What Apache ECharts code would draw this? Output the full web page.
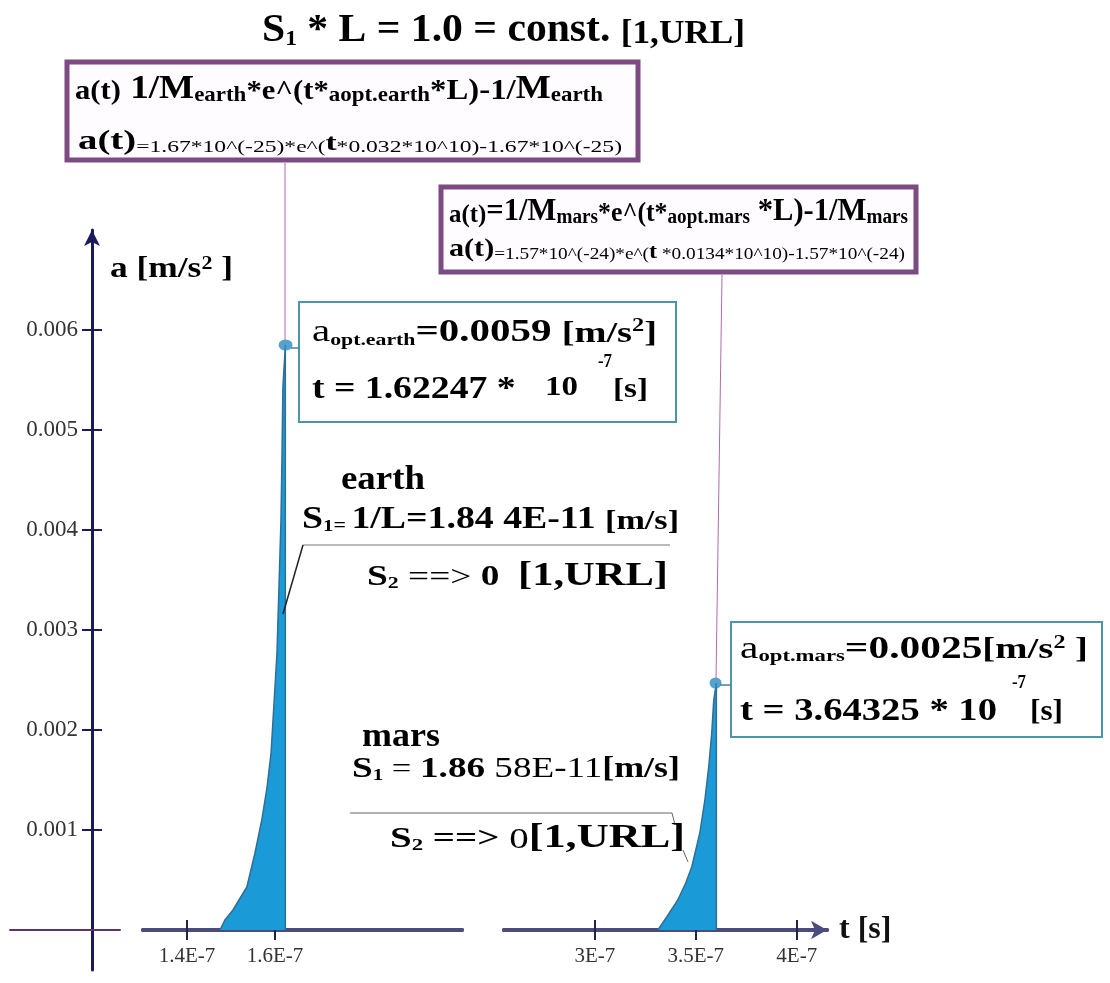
<!DOCTYPE html>
<html><head><meta charset="utf-8">
<script src="https://cdn.jsdelivr.net/npm/echarts@6/dist/echarts.min.js"></script>
<style>html,body{margin:0;padding:0;background:#fff}#c{width:1110px;height:983px}</style>
</head><body><div id="c"></div>
<script>
// ---- data (time in units of 1E-7 s, acceleration in m/s^2) ----
const earthT = [1.475, 1.486, 1.5045, 1.536, 1.5545, 1.570, 1.582, 1.591, 1.5955, 1.6045, 1.609, 1.6136, 1.616, 1.618, 1.6235, 1.6235];
const earthA = [0, 0.0001, 0.0002, 0.00043, 0.00077, 0.0011, 0.00143, 0.00177, 0.0021, 0.00277, 0.00343, 0.0041, 0.00477, 0.00543, 0.00585, 0];
const marsT = [3.312, 3.356, 3.411, 3.450, 3.480, 3.520, 3.545, 3.564, 3.579, 3.589, 3.602, 3.602];
const marsA = [0, 0.00013, 0.0003, 0.00047, 0.00063, 0.00097, 0.0013, 0.00163, 0.00197, 0.0023, 0.00247, 0];
const earthPeak = [1.624, 0.00585];
const marsPeak = [3.598, 0.00247];
const yTicks = [0.001, 0.002, 0.003, 0.004, 0.005, 0.006];
const yTickLabels = ['0.001', '0.002', '0.003', '0.004', '0.005', '0.006'];
const earthTicks = [1.4, 1.6];
const earthTickLabels = ['1.4E-7', '1.6E-7'];
const marsTicks = [3, 3.5, 4];
const marsTickLabels = ['3E-7', '3.5E-7', '4E-7'];

const F = 'Liberation Serif';
const pair = (xs, ys) => xs.map((x, i) => [x, ys[i]]);
const lab = (ticks, labels) => v => { const i = ticks.findIndex(t => Math.abs(t - v) < 1e-9); return i < 0 ? '' : labels[i]; };

const ctx = document.createElement('canvas').getContext('2d');
function textEl(spec) {
  const rich = {}; let text = ''; let w = 0;
  spec.parts.forEach((p, i) => {
    const [s, size, weight, va] = p;
    const wt = weight || 'bold';
    rich['t' + i] = { fontFamily: F, fontSize: size, fontWeight: wt, color: spec.color || '#111', verticalAlign: va || 'bottom', lineHeight: size };
    ctx.font = wt + ' ' + size + 'px "' + F + '"';
    w += ctx.measureText(s).width;
    text += '{t' + i + '|' + s + '}';
  });
  const sx = spec.x2 ? (spec.x2 - spec.x1) / w : 1;
  return { type: 'text', x: spec.x1, y: spec.y, scaleX: sx, z: 100,
    style: { text: text, rich: rich, textAlign: 'left', align: 'left', textVerticalAlign: 'middle', verticalAlign: 'middle' } };
}
function line(x1, y1, x2, y2, stroke, w) {
  return { type: 'line', z: 90, shape: { x1, y1, x2, y2 }, style: { stroke: stroke, lineWidth: w } };
}
function box(x, y, wd, ht, stroke, lw, fill) {
  return { type: 'rect', z: 80, shape: { x: x, y: y, width: wd, height: ht }, style: { fill: fill || '#fff', stroke: stroke, lineWidth: lw } };
}

const PURPLE = '#7b4b82', TEAL = '#4a97aa', LEAD = '#b06aa8';
const texts = [
  { x1: 262, x2: 745, y: 31, parts: [['S', 39], ['1', 22], [' * L = 1.0 = const. ', 39], ['[1,URL]', 33]] },
  { x1: 75, x2: 603, y: 89, parts: [['a(t)', 28], [' 1/M', 34], ['earth', 21], ['*e^(t*', 28], ['aopt.earth', 21], ['*L)-1/', 30], ['M', 34], ['earth', 21]] },
  { x1: 78, x2: 622, y: 142, parts: [['a(t)', 28], ['=1.67*10^(-25)*e^(', 17, 'normal'], ['t', 24], ['*0.032*10^10)-1.67*10^(-25)', 17, 'normal']] },
  { x1: 449, x2: 908, y: 212, parts: [['a(t)', 26], ['=1/M', 32], ['mars', 20], ['*e^(t*', 27], ['aopt.mars', 20], [' *L)-1/M', 32], ['mars', 20]] },
  { x1: 449, x2: 905, y: 250, parts: [['a(t)', 25], ['=1.57*10^(-24)*e^(', 16, 'normal'], ['t', 20], [' *0.0134*10^10)-1.57*10^(-24)', 16, 'normal']] },
  { x1: 110, x2: 233, y: 270, parts: [['a [m/s', 29], ['2', 18, 'bold', 'top'], [' ]', 29]] },
  { x1: 312, x2: 657, y: 333, parts: [['a', 32, 'normal'], ['opt.earth', 17], ['=0.0059 ', 32], ['[m/s', 30], ['2', 19, 'bold', 'top'], [']', 30]] },
  { x1: 312, x2: 525, y: 390, parts: [['t = 1.62247 * ', 32]] },
  { x1: 545, x2: 578, y: 388, parts: [['10', 28]] },
  { x1: 598, x2: 612, y: 362, parts: [['-7', 18]] },
  { x1: 613, x2: 648, y: 390, parts: [['[s]', 28]] },
  { x1: 341, x2: 425, y: 480, parts: [['earth', 33]] },
  { x1: 302, x2: 679, y: 520, parts: [['S', 31], ['1', 17], ['= ', 18], ['1/L=', 31], ['1.84 4E-11 ', 31], ['[m/s]', 28]] },
  { x1: 367, x2: 668, y: 576, parts: [['S', 29], ['2', 17], [' ==> ', 29, 'normal'], ['0  ', 29], ['[1,URL]', 33]] },
  { x1: 740, x2: 1088, y: 650, parts: [['a', 31, 'normal'], ['opt.mars', 17], ['=0.0025', 31], ['[m/s', 29], ['2', 18, 'bold', 'top'], [' ]', 29]] },
  { x1: 740, x2: 997, y: 712, parts: [['t = 3.64325 * 10', 31]] },
  { x1: 1012, x2: 1026, y: 683, parts: [['-7', 18]] },
  { x1: 1030, x2: 1063, y: 713, parts: [['[s]', 29]] },
  { x1: 362, x2: 440, y: 737, parts: [['mars', 33]] },
  { x1: 352, x2: 680, y: 769, parts: [['S', 30], ['1', 17], [' = ', 28, 'normal'], ['1.86', 30], [' 58E-11', 30, 'normal'], ['[m/s]', 29]] },
  { x1: 390, x2: 685, y: 838, parts: [['S', 29], ['2', 17], [' ==> ', 29], ['0', 29, 'normal'], ['[1,URL]', 33]] }
];

const graphics = [
  box(67, 62, 571, 98, PURPLE, 5, '#fffcff'),
  box(441, 187, 475, 85, PURPLE, 5, '#fffcff'),
  box(299, 302, 377, 120, TEAL, 2),
  box(731, 622, 371, 115, TEAL, 2),
  line(285, 163, 285, 340, LEAD, 1),
  line(722, 275, 716, 679, LEAD, 1),
  line(291, 348, 299, 348, '#4a7f95', 1.5),
  line(720, 685, 731, 685, '#4a7f95', 1.5),
  line(303, 545, 670, 545, '#777', 1),
  line(303, 545, 283, 614, '#222', 1.5),
  line(350, 813, 672, 813, '#666', 1),
  line(672, 813, 675, 825, '#666', 1),
  line(683, 850, 688, 862, '#666', 1)
].concat(texts.map(textEl));

const axisTxt = { fontFamily: F, fontSize: 21, color: '#333' };
const noB = { outerBoundsMode: 'none', containLabel: false };
const option = {
  animation: false,
  backgroundColor: '#fff',
  grid: [
    { left: 143, top: 230, width: 319, height: 700, ...noB },
    { left: 504, top: 230, width: 323, height: 700, ...noB },
    { left: 92, top: 230, width: 28, height: 740, ...noB },
    { left: 10, top: 230, width: 110, height: 700, ...noB }
  ],
  xAxis: [
    { gridIndex: 0, type: 'value', min: 1.3, max: 2.025, position: 'bottom',
      axisLine: { onZero: true, onZeroAxisIndex: 0, lineStyle: { color: '#4b4b7d', width: 4 } },
      axisTick: { customValues: earthTicks, length: 10, lineStyle: { color: '#22224a', width: 2 } },
      axisLabel: { customValues: earthTicks, formatter: lab(earthTicks, earthTickLabels), margin: 16, ...axisTxt },
      splitLine: { show: false } },
    { gridIndex: 0, type: 'value', min: 1.3, max: 2.025, position: 'top',
      axisLine: { onZero: true, onZeroAxisIndex: 0, lineStyle: { color: '#4b4b7d', width: 4 } },
      axisTick: { customValues: earthTicks, length: 10, lineStyle: { color: '#22224a', width: 2 } },
      axisLabel: { show: false }, splitLine: { show: false } },
    { gridIndex: 1, type: 'value', min: 2.55, max: 4.15, position: 'bottom',
      name: 't [s]', nameLocation: 'end', nameGap: 12,
      nameTextStyle: { fontFamily: F, fontSize: 32, fontWeight: 'bold', color: '#111', align: 'left', verticalAlign: 'middle' },
      axisLine: { onZero: true, onZeroAxisIndex: 1, symbol: ['none', 'arrow'], symbolSize: [14, 16], lineStyle: { color: '#4b4b7d', width: 4 } },
      axisTick: { customValues: marsTicks, length: 10, lineStyle: { color: '#22224a', width: 2 } },
      axisLabel: { customValues: marsTicks, formatter: lab(marsTicks, marsTickLabels), margin: 16, ...axisTxt },
      splitLine: { show: false } },
    { gridIndex: 1, type: 'value', min: 2.55, max: 4.15, position: 'top',
      axisLine: { onZero: true, onZeroAxisIndex: 1, lineStyle: { color: '#4b4b7d', width: 4 } },
      axisTick: { customValues: marsTicks, length: 10, lineStyle: { color: '#22224a', width: 2 } },
      axisLabel: { show: false }, splitLine: { show: false } },
    { gridIndex: 2, type: 'value', min: 0, max: 1, show: false },
    { gridIndex: 3, type: 'value', min: 0, max: 1,
      axisLine: { onZero: true, lineStyle: { color: '#5a3566', width: 2 } },
      axisTick: { show: false }, axisLabel: { show: false }, splitLine: { show: false } }
  ],
  yAxis: [
    { gridIndex: 0, type: 'value', min: 0, max: 0.007, show: false, splitLine: { show: false } },
    { gridIndex: 1, type: 'value', min: 0, max: 0.007, show: false, splitLine: { show: false } },
    { gridIndex: 2, type: 'value', min: -0.0004, max: 0.007, position: 'left',
      axisLine: { onZero: false, symbol: ['none', 'arrow'], symbolSize: [12, 16], lineStyle: { color: '#1b1a5c', width: 3 } },
      axisTick: { customValues: yTicks, length: 10, lineStyle: { color: '#1b1a5c', width: 2 } },
      axisLabel: { customValues: yTicks, formatter: lab(yTicks, yTickLabels), margin: 14, fontFamily: F, fontSize: 23, color: '#333' },
      splitLine: { show: false } },
    { gridIndex: 2, type: 'value', min: -0.0004, max: 0.007, position: 'right', offset: -28,
      axisLine: { onZero: false, show: false },
      axisTick: { customValues: yTicks, length: 10, lineStyle: { color: '#1b1a5c', width: 2 } },
      axisLabel: { show: false }, splitLine: { show: false } },
    { gridIndex: 3, type: 'value', min: 0, max: 0.007, show: false, splitLine: { show: false } }
  ],
  series: [
    { type: 'line', xAxisIndex: 0, yAxisIndex: 0, data: pair(earthT, earthA), showSymbol: false,
      lineStyle: { color: '#2f6f96', width: 1.5 }, areaStyle: { color: '#1a9ad6', opacity: 1 }, z: 3 },
    { type: 'line', xAxisIndex: 2, yAxisIndex: 1, data: pair(marsT, marsA), showSymbol: false,
      lineStyle: { color: '#2f6f96', width: 1.5 }, areaStyle: { color: '#1a9ad6', opacity: 1 }, z: 3 },
    { type: 'scatter', xAxisIndex: 0, yAxisIndex: 0, data: [earthPeak], symbolSize: [14, 11], itemStyle: { color: '#2b8cc0' }, z: 5 },
    { type: 'scatter', xAxisIndex: 2, yAxisIndex: 1, data: [marsPeak], symbolSize: [12, 11], itemStyle: { color: '#2b8cc0' }, z: 5 }
  ],
  graphic: graphics
};
const chart = echarts.init(document.getElementById('c'));
chart.setOption(option);
</script></body></html>
